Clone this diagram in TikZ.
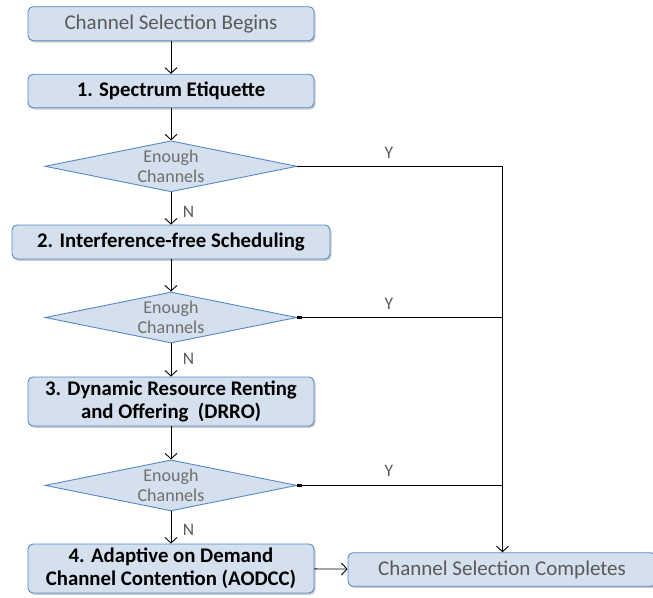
\documentclass[tikz,border=0pt]{standalone}
\usepackage{fontspec}
\setmainfont{Carlito}
\usetikzlibrary{shapes.geometric,arrows.meta,shadows}
\definecolor{boxfill}{RGB}{213,224,238}
\definecolor{boxline}{RGB}{84,136,196}
\definecolor{greytext}{RGB}{89,89,89}
\definecolor{dtext}{RGB}{110,110,110}
\tikzset{
  box/.style={draw=boxline, fill=boxfill, line width=0.9pt, rounded corners=5pt,
    drop shadow={shadow xshift=1.5pt, shadow yshift=-1.8pt, fill=black!45, opacity=0.45},
    inner sep=0pt, align=center, font=\fontsize{21}{23}\selectfont},
  stepbox/.style={box, font=\fontsize{20.8}{22.8}\selectfont\bfseries, text=black},
  termbox/.style={box, text=greytext},
  decide/.style={diamond, aspect=5, draw=boxline, fill=boxfill, line width=0.9pt,
    inner sep=0pt, minimum width=252pt, minimum height=51pt, align=center,
    text=dtext, font=\fontsize{18}{20.5}\selectfont},
  flow/.style={draw=black, line width=0.9pt, -{Straight Barb[length=5.5pt,width=12pt]}},
  plain/.style={draw=black, line width=0.9pt},
  stub/.style={draw=black, line width=2.2pt},
  lab/.style={text=greytext, font=\fontsize{17.5}{20}\selectfont, inner sep=0pt}
}
\begin{document}
\begin{tikzpicture}[x=1pt,y=-1pt]
\useasboundingbox (0,0) rectangle (653,597);
\begin{scope}
\clip (0,0) rectangle (653,597);
\node[termbox, minimum width=286pt, minimum height=34pt] (start) at (171,23.7) {Channel Selection Begins};
\node[stepbox, minimum width=286pt, minimum height=33.5pt] (s1) at (171,91) {1. Spectrum Etiquette};
\node[decide] (d1) at (171,166.3) {Enough\\Channels};
\node[stepbox, minimum width=318pt, minimum height=34pt] (s2) at (171,242) {2. Interference-free Scheduling};
\node[decide] (d2) at (171,317.5) {Enough\\Channels};
\node[stepbox, minimum width=286pt, minimum height=49pt] (s3) at (171,401.5) {3. Dynamic Resource Renting\\and Offering~ (DRRO)};
\node[decide] (d3) at (171,485.4) {Enough\\Channels};
\node[stepbox, minimum width=286pt, minimum height=49pt] (s4) at (171,568.5) {4. Adaptive on Demand\\Channel Contention (AODCC)};
\node[termbox, minimum width=308pt, minimum height=33.5pt] (end) at (502,569.5) {Channel Selection Completes};
\end{scope}
\coordinate (j1) at (502.5,166.3);
\coordinate (j2) at (502.5,317.5);
\coordinate (j3) at (502.5,485.4);
\draw[flow] (start) -- (s1);
\draw[flow] (s1) -- (d1);
\draw[flow] (d1) -- (s2);
\draw[flow] (s2) -- (d2);
\draw[flow] (d2) -- (s3);
\draw[flow] (s3) -- (d3);
\draw[flow] (d3) -- (s4);
\draw[flow] (s4) -- (end);
\draw[plain] (d1.east) -- (j1);
\draw[flow] (j1) -- (end.north -| j1);
\draw[plain] (d2.east) -- (j2);
\draw[plain] (d3.east) -- (j3);
\draw[stub] (d2.east) -- ++(5,0);
\draw[stub] (d3.east) -- ++(5,0);
\node[lab] (y1) at (389,153) {Y};
\node[lab] (y2) at (389,303.5) {Y};
\node[lab] (y3) at (389,470.5) {Y};
\node[lab] (n1) at (188.5,211.5) {N};
\node[lab] (n2) at (188.5,358.5) {N};
\node[lab] (n3) at (188.5,529.5) {N};
\end{tikzpicture}
\end{document}
